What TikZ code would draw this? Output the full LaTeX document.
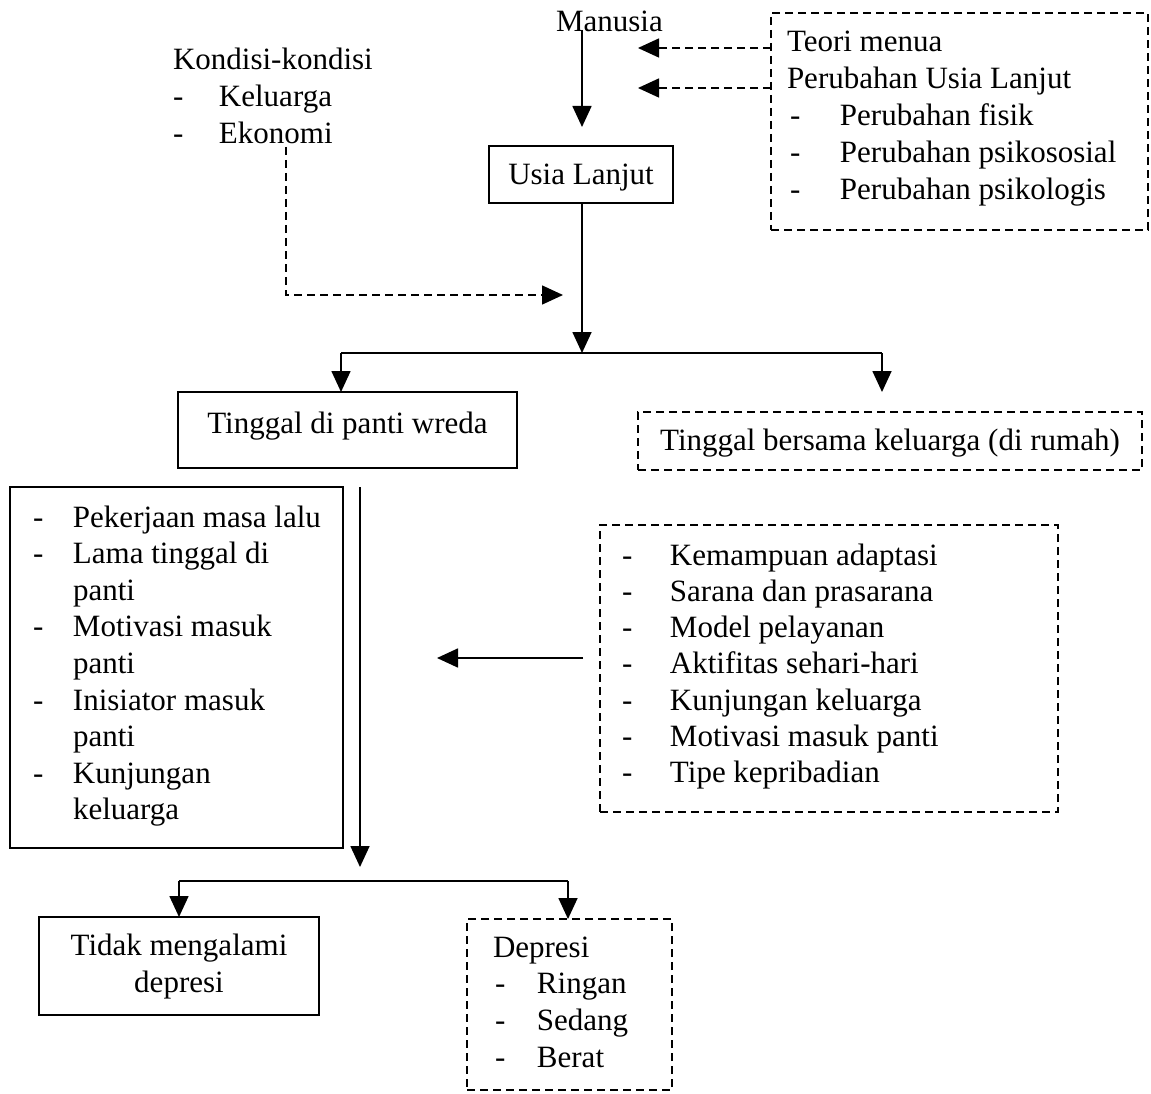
\documentclass[tikz,border=0pt]{standalone}
\usepackage{fontspec}
\setmainfont{Liberation Serif}
\usetikzlibrary{arrows.meta,calc}
\newcommand\dashitem[2]{\makebox[#1][l]{-}#2}
\begin{document}
\begin{tikzpicture}[x=1pt,y=-1pt,
  every node/.style={font=\fontsize{31}{36.6}\selectfont, inner sep=0pt, outer sep=0pt},
  solidbox/.style={draw, line width=1.8pt},
  dashbox/.style={draw, line width=1.5pt, dash pattern=on 8pt off 5pt},
  link/.style={line width=1.7pt},
  dlink/.style={line width=1.5pt, dash pattern=on 8pt off 5pt},
  tip/.style={-{Triangle[width=19pt,length=21pt]}},
]
\useasboundingbox (0,0) rectangle (1151,1094);

% boxes
\node[solidbox, anchor=north west, minimum width=184pt, minimum height=57pt,
      text height=21pt, text depth=0pt] (usia) at (489,146) {Usia Lanjut};
\node[dashbox, anchor=north west, minimum width=377pt, minimum height=217pt] (teori) at (771,13) {};
\node[solidbox, anchor=north west, minimum width=339pt, minimum height=76pt,
      text height=21pt, text depth=15pt] (panti) at (178,392) {Tinggal di panti wreda};
\node[dashbox, anchor=north west, minimum width=504pt, minimum height=58pt,
      text height=21pt, text depth=3pt] (rumah) at (638,412) {Tinggal bersama keluarga (di rumah)};
\node[solidbox, anchor=north west, minimum width=333pt, minimum height=361pt] (llist) at (10,487) {};
\node[dashbox, anchor=north west, minimum width=458pt, minimum height=287pt] (rlist) at (600,525) {};
\node[solidbox, anchor=north west, minimum width=280pt, minimum height=98pt] (tidak) at (39,917) {};
\node[dashbox, anchor=north west, minimum width=205pt, minimum height=171pt] (dep) at (467,919) {};

% texts
\node[anchor=base west] (manusia) at (556,32) {Manusia};
\node[anchor=base west] (kondisi) at (173,70) {\begin{tabular}[t]{@{}l@{}}
Kondisi-kondisi\\
\dashitem{46pt}{Keluarga}\\
\dashitem{46pt}{Ekonomi}
\end{tabular}};
\node[anchor=base west] (teoritxt) at (787,52) {\fontsize{31}{37}\selectfont\begin{tabular}[t]{@{}l@{}}
Teori menua\\
Perubahan Usia Lanjut\\
\hspace{3pt}\dashitem{50pt}{Perubahan fisik}\\
\hspace{3pt}\dashitem{50pt}{Perubahan psikososial}\\
\hspace{3pt}\dashitem{50pt}{Perubahan psikologis}
\end{tabular}};
\node[anchor=base west] (ltxt) at (33,527) {\begin{tabular}[t]{@{}l@{}}
\dashitem{40pt}{Pekerjaan masa lalu}\\
\dashitem{40pt}{Lama tinggal di}\\
\hspace{40pt}panti\\
\dashitem{40pt}{Motivasi masuk}\\
\hspace{40pt}panti\\
\dashitem{40pt}{Inisiator masuk}\\
\hspace{40pt}panti\\
\dashitem{40pt}{Kunjungan}\\
\hspace{40pt}keluarga
\end{tabular}};
\node[anchor=base west] (rtxt) at (622,565) {\fontsize{31}{36.3}\selectfont\begin{tabular}[t]{@{}l@{}}
\dashitem{48pt}{Kemampuan adaptasi}\\
\dashitem{48pt}{Sarana dan prasarana}\\
\dashitem{48pt}{Model pelayanan}\\
\dashitem{48pt}{Aktifitas sehari-hari}\\
\dashitem{48pt}{Kunjungan keluarga}\\
\dashitem{48pt}{Motivasi masuk panti}\\
\dashitem{48pt}{Tipe kepribadian}
\end{tabular}};
\node[anchor=base] (tidaktxt) at (179,955) {\fontsize{31}{37}\selectfont\begin{tabular}[t]{@{}c@{}}
Tidak mengalami\\
depresi
\end{tabular}};
\node[anchor=base west] (deptxt) at (493,957) {\fontsize{31}{36.7}\selectfont\begin{tabular}[t]{@{}l@{}}
Depresi\\
\hspace{2pt}\dashitem{42pt}{Ringan}\\
\hspace{2pt}\dashitem{42pt}{Sedang}\\
\hspace{2pt}\dashitem{42pt}{Berat}
\end{tabular}};

% coordinates
\coordinate (m1) at (582,30);
\coordinate (m2) at (582,127);
\coordinate (j1) at (582,353);
\coordinate (jl) at (341,353);
\coordinate (jr) at (882,353);
\coordinate (jrt) at (882,392);
\coordinate (k1) at (286,147);
\coordinate (k3) at (563,295);
\coordinate (t1s) at (771,48);
\coordinate (t1e) at (638,48);
\coordinate (t2s) at (771,88);
\coordinate (t2e) at (638,88);
\coordinate (v1) at (360,487);
\coordinate (v2) at (360,867);
\coordinate (ra) at (583,658);
\coordinate (rb) at (437,658);
\coordinate (bl) at (179,881);
\coordinate (br) at (568,881);

% connectors
\draw[link,tip] (m1) -- (m2);
\draw[dlink,tip] (t1s) -- (t1e);
\draw[dlink,tip] (t2s) -- (t2e);
\draw[dlink,tip] (k1) |- (k3);
\draw[link,tip] (usia.south -| j1) -- (j1);
\draw[link] (jl) -- (jr);
\draw[link,tip] (jl) -- (jl |- panti.north);
\draw[link,tip] (jr) -- (jrt);
\draw[link,tip] (v1) -- (v2);
\draw[link,tip] (ra) -- (rb);
\draw[link] (bl) -- (br);
\draw[link,tip] (bl) -- (bl |- tidak.north);
\draw[link,tip] (br) -- (br |- dep.north);
\end{tikzpicture}
\end{document}
